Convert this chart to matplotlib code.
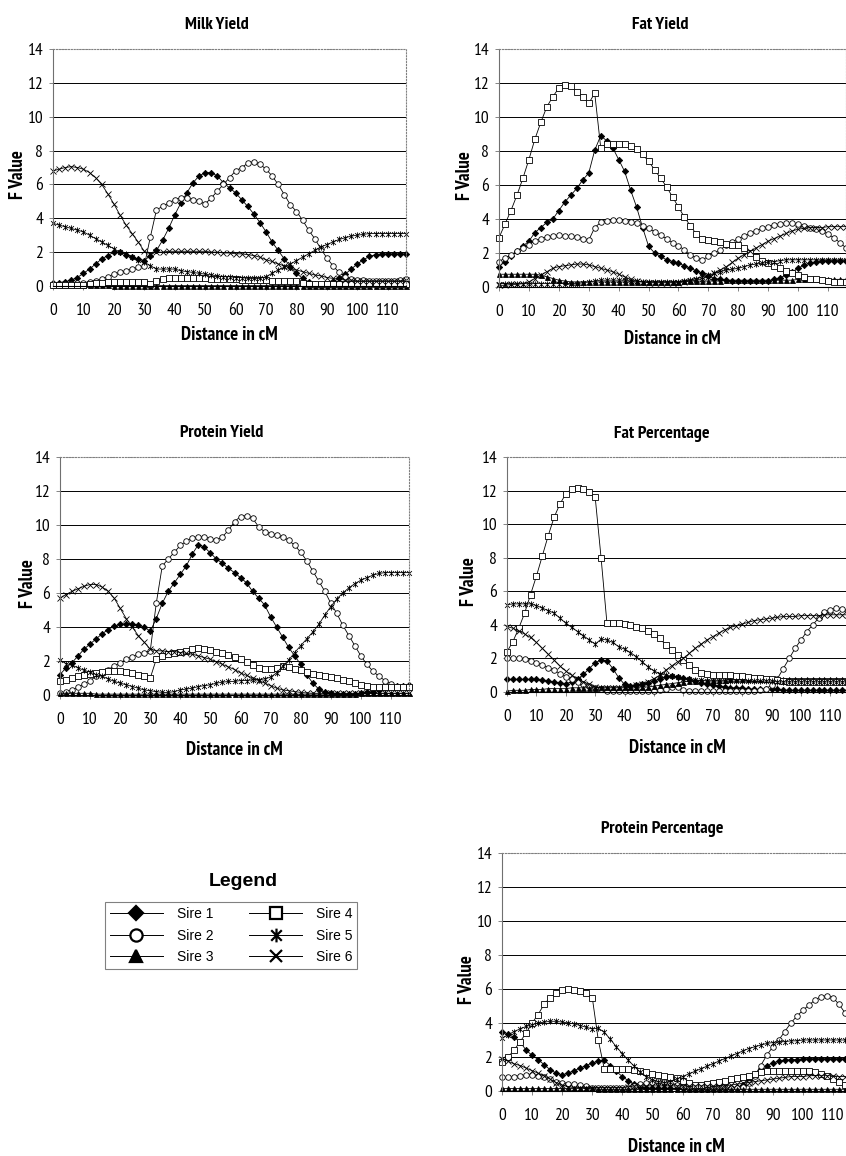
import matplotlib
matplotlib.use("Agg")
import matplotlib.pyplot as plt
from matplotlib import font_manager
from matplotlib.lines import Line2D
from matplotlib.path import Path


def pick(cands, bold=False):
    # first installed family (with a bold face if needed), DejaVu as fallback
    for name in cands:
        ws = [f.weight for f in font_manager.fontManager.ttflist if f.name == name]
        ws = [w if isinstance(w, int) else (700 if str(w) == 'bold' else 400) for w in ws]
        if ws and (not bold or max(ws) >= 600):
            return [name, 'DejaVu Sans']
    return ['DejaVu Sans']


narrow_cands = ['PT Sans Narrow', 'Archivo Narrow', 'Roboto Condensed', 'Liberation Sans Narrow']
narrow = pick(narrow_cands)
narrow_bold = pick(narrow_cands, bold=True)
arial = pick(['Liberation Sans', 'Arimo'])
plt.rcParams['font.family'] = narrow

# distance in cM (one point every 2 cM)
dist = list(range(0, 117, 2))
sires = ['Sire 1', 'Sire 2', 'Sire 3', 'Sire 4', 'Sire 5', 'Sire 6']

# ---- Milk Yield ----
milk_s1 = [0.2, 0.2, 0.25, 0.35, 0.5, 0.75, 1.0, 1.3, 1.6, 1.8,
           2.0, 2.0, 1.85, 1.7, 1.6, 1.5, 1.8, 2.1, 2.7, 3.4,
           4.2, 4.9, 5.5, 6.1, 6.5, 6.7, 6.7, 6.5, 6.1, 5.8,
           5.5, 5.1, 4.7, 4.25, 3.75, 3.2, 2.6, 2.1, 1.6, 1.15,
           0.75, 0.45, 0.25, 0.1, 0.05, 0.1, 0.25, 0.45, 0.7, 1.0,
           1.3, 1.55, 1.75, 1.85, 1.9, 1.9, 1.9, 1.9, 1.9]
milk_s2 = [0.05, 0.05, 0.1, 0.1, 0.15, 0.2, 0.25, 0.3, 0.4, 0.55,
           0.7, 0.8, 0.9, 1.0, 1.1, 1.2, 2.9, 4.5, 4.7, 4.9,
           5.1, 5.2, 5.2, 5.1, 5.0, 4.85, 5.2, 5.6, 6.0, 6.4,
           6.8, 7.0, 7.25, 7.35, 7.2, 6.9, 6.5, 6.0, 5.4, 4.8,
           4.4, 3.9, 3.3, 2.8, 2.2, 1.65, 1.2, 0.8, 0.55, 0.4,
           0.35, 0.35, 0.3, 0.3, 0.3, 0.3, 0.3, 0.35, 0.4]
milk_s3 = [0.05, 0.05, 0.05, 0.05, 0.05, 0.05, 0.05, 0.05, 0.05, 0.03,
           0.02, 0.02, 0.02, 0.02, 0.02, 0.02, 0.02, 0.02, 0.02, 0.02,
           0.02, 0.02, 0.02, 0.02, 0.02, 0.02, 0.02, 0.02, 0.02, 0.02,
           0.02, 0.02, 0.02, 0.02, 0.02, 0.02, 0.02, 0.02, 0.02, 0.02,
           0.02, 0.02, 0.02, 0.02, 0.02, 0.02, 0.02, 0.02, 0.02, 0.02,
           0.02, 0.02, 0.02, 0.02, 0.02, 0.02, 0.02, 0.02, 0.02]
milk_s4 = [0.05, 0.05, 0.05, 0.05, 0.05, 0.05, 0.1, 0.15, 0.2, 0.25,
           0.25, 0.25, 0.25, 0.25, 0.25, 0.25, 0.1, 0.3, 0.4, 0.45,
           0.45, 0.45, 0.45, 0.45, 0.45, 0.45, 0.4, 0.4, 0.4, 0.4,
           0.4, 0.35, 0.35, 0.35, 0.35, 0.35, 0.3, 0.3, 0.3, 0.3,
           0.3, 0.2, 0.1, 0.1, 0.1, 0.1, 0.1, 0.1, 0.1, 0.1,
           0.1, 0.1, 0.1, 0.1, 0.1, 0.1, 0.1, 0.1, 0.1]
milk_s5 = [3.7, 3.6, 3.5, 3.4, 3.3, 3.2, 3.0, 2.8, 2.6, 2.4,
           2.2, 2.0, 1.9, 1.7, 1.55, 1.4, 1.2, 1.0, 1.0, 1.0,
           1.0, 0.9, 0.85, 0.8, 0.75, 0.7, 0.65, 0.6, 0.55, 0.55,
           0.5, 0.5, 0.45, 0.45, 0.45, 0.55, 0.75, 0.95, 1.1, 1.3,
           1.5, 1.7, 1.9, 2.1, 2.3, 2.45, 2.6, 2.75, 2.85, 2.95,
           3.0, 3.05, 3.1, 3.1, 3.1, 3.1, 3.1, 3.1, 3.1]
milk_s6 = [6.8, 6.9, 7.0, 7.05, 7.0, 6.9, 6.7, 6.4, 6.0, 5.45,
           4.85, 4.2, 3.6, 3.1, 2.6, 2.05, 1.9, 2.0, 2.0, 2.05,
           2.05, 2.05, 2.05, 2.05, 2.05, 2.05, 2.0, 2.0, 1.95, 1.95,
           1.9, 1.9, 1.85, 1.8, 1.7, 1.55, 1.45, 1.3, 1.2, 1.05,
           0.95, 0.85, 0.75, 0.65, 0.6, 0.5, 0.45, 0.4, 0.35, 0.35,
           0.3, 0.3, 0.3, 0.3, 0.3, 0.3, 0.3, 0.3, 0.35]

# ---- Fat Yield ----
fat_s1 = [1.2, 1.5, 1.8, 2.1, 2.4, 2.7, 3.2, 3.5, 3.8, 4.0,
          4.5, 5.0, 5.4, 5.8, 6.3, 6.7, 8.05, 8.9, 8.6, 8.2,
          7.5, 6.8, 5.7, 4.7, 3.5, 2.4, 2.0, 1.8, 1.6, 1.5,
          1.4, 1.25, 1.1, 0.95, 0.8, 0.65, 0.5, 0.45, 0.4, 0.35,
          0.35, 0.35, 0.35, 0.35, 0.35, 0.35, 0.45, 0.55, 0.7, 0.9,
          1.1, 1.3, 1.4, 1.5, 1.55, 1.55, 1.55, 1.55, 1.55]
fat_s2 = [1.5, 1.7, 1.9, 2.1, 2.3, 2.5, 2.7, 2.85, 2.95, 3.0,
          3.05, 3.0, 3.0, 2.95, 2.85, 2.75, 3.5, 3.8, 3.9, 3.95,
          3.95, 3.9, 3.85, 3.75, 3.6, 3.45, 3.25, 3.05, 2.85, 2.6,
          2.4, 2.2, 1.9, 1.7, 1.6, 1.8, 2.0, 2.2, 2.45, 2.65,
          2.85, 3.0, 3.15, 3.3, 3.45, 3.55, 3.65, 3.7, 3.75, 3.75,
          3.7, 3.6, 3.5, 3.4, 3.3, 3.1, 2.9, 2.6, 2.3]
fat_s3 = [0.75, 0.75, 0.75, 0.75, 0.75, 0.75, 0.75, 0.7, 0.6, 0.5,
          0.4, 0.35, 0.3, 0.3, 0.3, 0.3, 0.3, 0.3, 0.3, 0.3,
          0.3, 0.3, 0.3, 0.3, 0.3, 0.3, 0.3, 0.3, 0.3, 0.3,
          0.3, 0.35, 0.35, 0.35, 0.35, 0.35, 0.35, 0.35, 0.4, 0.4,
          0.4, 0.4, 0.4, 0.4, 0.4, 0.4, 0.4, 0.4, 0.4, 0.4,
          0.45, 0.45, 0.45, 0.45, 0.45, 0.45, 0.45, 0.45, 0.45]
fat_s4 = [2.9, 3.7, 4.5, 5.4, 6.4, 7.5, 8.7, 9.7, 10.6, 11.2,
          11.7, 11.9, 11.8, 11.5, 11.2, 10.8, 11.4, 8.2, 8.4, 8.4,
          8.4, 8.4, 8.3, 8.1, 7.8, 7.4, 6.9, 6.4, 5.9, 5.3,
          4.7, 4.1, 3.6, 3.1, 2.8, 2.75, 2.7, 2.65, 2.55, 2.5,
          2.45, 2.3, 2.0, 1.75, 1.55, 1.4, 1.25, 1.1, 0.95, 0.8,
          0.7, 0.6, 0.5, 0.45, 0.4, 0.35, 0.3, 0.3, 0.3]
fat_s5 = [0.2, 0.2, 0.2, 0.2, 0.2, 0.2, 0.2, 0.2, 0.2, 0.2,
          0.2, 0.2, 0.2, 0.2, 0.25, 0.3, 0.35, 0.4, 0.4, 0.4,
          0.4, 0.4, 0.35, 0.35, 0.3, 0.3, 0.3, 0.3, 0.3, 0.3,
          0.3, 0.35, 0.4, 0.5, 0.6, 0.7, 0.8, 0.9, 1.0, 1.05,
          1.1, 1.2, 1.3, 1.35, 1.4, 1.45, 1.5, 1.55, 1.6, 1.6,
          1.6, 1.6, 1.6, 1.6, 1.6, 1.6, 1.6, 1.6, 1.6]
fat_s6 = [0.1, 0.1, 0.15, 0.15, 0.2, 0.3, 0.5, 0.7, 0.9, 1.1,
          1.2, 1.25, 1.3, 1.35, 1.35, 1.3, 1.2, 1.1, 1.0, 0.9,
          0.75, 0.6, 0.45, 0.35, 0.3, 0.25, 0.25, 0.25, 0.25, 0.25,
          0.25, 0.3, 0.35, 0.4, 0.5, 0.6, 0.8, 1.0, 1.2, 1.45,
          1.7, 1.9, 2.1, 2.3, 2.5, 2.7, 2.85, 3.0, 3.15, 3.3,
          3.4, 3.45, 3.5, 3.5, 3.5, 3.55, 3.55, 3.55, 3.55]

# ---- Protein Yield ----
prot_s1 = [1.2, 1.6, 1.9, 2.3, 2.7, 3.0, 3.3, 3.6, 3.85, 4.05,
           4.15, 4.2, 4.2, 4.1, 4.0, 3.75, 4.5, 5.4, 6.1, 6.6,
           7.1, 7.6, 8.3, 8.85, 8.7, 8.35, 8.0, 7.75, 7.45, 7.2,
           6.9, 6.6, 6.1, 5.7, 5.3, 4.6, 4.0, 3.4, 2.8, 2.3,
           1.8, 1.2, 0.7, 0.35, 0.15, 0.1, 0.05, 0.05, 0.05, 0.05,
           0.1, 0.15, 0.2, 0.3, 0.4, 0.5, 0.55, 0.55, 0.6]
prot_s2 = [0.1, 0.2, 0.3, 0.45, 0.65, 0.85, 1.1, 1.3, 1.5, 1.7,
           1.9, 2.1, 2.25, 2.4, 2.5, 2.6, 5.4, 7.6, 8.0, 8.4,
           8.8, 9.05, 9.25, 9.3, 9.3, 9.2, 9.1, 9.3, 9.7, 10.2,
           10.5, 10.55, 10.4, 9.9, 9.6, 9.5, 9.4, 9.3, 9.1, 8.8,
           8.4, 7.9, 7.3, 6.7, 6.1, 5.4, 4.8, 4.1, 3.5, 2.9,
           2.3, 1.8, 1.4, 1.1, 0.85, 0.65, 0.5, 0.45, 0.45]
prot_s3 = [0.1, 0.1, 0.1, 0.1, 0.1, 0.1, 0.05, 0.05, 0.05, 0.05,
           0.05, 0.05, 0.05, 0.05, 0.05, 0.05, 0.05, 0.05, 0.05, 0.05,
           0.05, 0.05, 0.05, 0.05, 0.05, 0.05, 0.05, 0.05, 0.05, 0.05,
           0.05, 0.05, 0.05, 0.05, 0.05, 0.05, 0.05, 0.05, 0.05, 0.05,
           0.05, 0.05, 0.05, 0.05, 0.05, 0.05, 0.05, 0.05, 0.05, 0.05,
           0.1, 0.1, 0.1, 0.1, 0.1, 0.1, 0.1, 0.1, 0.1]
prot_s4 = [0.8, 0.9, 1.0, 1.1, 1.2, 1.25, 1.3, 1.35, 1.4, 1.4,
           1.4, 1.35, 1.3, 1.2, 1.1, 1.0, 2.1, 2.3, 2.4, 2.5,
           2.55, 2.6, 2.7, 2.75, 2.7, 2.65, 2.55, 2.45, 2.35, 2.25,
           2.1, 1.95, 1.75, 1.6, 1.55, 1.55, 1.6, 1.7, 1.65, 1.55,
           1.45, 1.35, 1.25, 1.2, 1.1, 1.05, 1.0, 0.9, 0.8, 0.7,
           0.6, 0.55, 0.5, 0.45, 0.45, 0.45, 0.45, 0.45, 0.45]
prot_s5 = [2.05, 1.85, 1.75, 1.6, 1.45, 1.35, 1.2, 1.1, 0.95, 0.8,
           0.7, 0.6, 0.5, 0.4, 0.3, 0.25, 0.2, 0.15, 0.15, 0.2,
           0.3, 0.35, 0.4, 0.5, 0.55, 0.6, 0.7, 0.75, 0.8, 0.8,
           0.85, 0.85, 0.9, 0.9, 0.95, 1.05, 1.3, 1.7, 2.05, 2.5,
           2.9, 3.3, 3.7, 4.15, 4.7, 5.2, 5.65, 6.0, 6.3, 6.55,
           6.75, 6.9, 7.05, 7.15, 7.2, 7.2, 7.2, 7.2, 7.2]
prot_s6 = [5.7, 5.9, 6.1, 6.25, 6.4, 6.5, 6.5, 6.35, 6.1, 5.7,
           5.1, 4.5, 4.0, 3.5, 3.1, 2.7, 2.6, 2.6, 2.55, 2.55,
           2.5, 2.45, 2.4, 2.3, 2.2, 2.1, 1.95, 1.8, 1.65, 1.5,
           1.3, 1.15, 1.0, 0.85, 0.7, 0.55, 0.4, 0.3, 0.25, 0.2,
           0.15, 0.12, 0.1, 0.1, 0.1, 0.1, 0.1, 0.1, 0.1, 0.1,
           0.1, 0.1, 0.1, 0.1, 0.1, 0.1, 0.1, 0.1, 0.1]

# ---- Fat Percentage ----
fatp_s1 = [0.75, 0.75, 0.75, 0.75, 0.75, 0.75, 0.7, 0.65, 0.6, 0.55,
           0.5, 0.6, 0.75, 1.05, 1.4, 1.75, 1.9, 1.85, 1.4, 0.85,
           0.45, 0.35, 0.4, 0.45, 0.55, 0.65, 0.8, 0.9, 0.95, 0.9,
           0.85, 0.75, 0.65, 0.55, 0.45, 0.4, 0.35, 0.3, 0.25, 0.25,
           0.25, 0.2, 0.15, 0.15, 0.15, 0.15, 0.15, 0.1, 0.1, 0.1,
           0.1, 0.1, 0.1, 0.1, 0.1, 0.1, 0.1, 0.1, 0.1]
fatp_s2 = [2.0, 2.05, 2.0, 1.95, 1.85, 1.75, 1.6, 1.45, 1.3, 1.1,
           0.9, 0.75, 0.6, 0.45, 0.35, 0.25, 0.15, 0.05, 0.05, 0.05,
           0.05, 0.05, 0.05, 0.05, 0.05, 0.05, 0.1, 0.2, 0.3, 0.3,
           0.1, 0.05, 0.05, 0.05, 0.05, 0.05, 0.05, 0.05, 0.05, 0.05,
           0.05, 0.05, 0.05, 0.1, 0.2, 0.4, 0.8, 1.4, 2.0, 2.6,
           3.1, 3.6, 4.0, 4.4, 4.75, 4.9, 5.0, 4.95, 4.85]
fatp_s3 = [0.05, 0.1, 0.1, 0.1, 0.15, 0.15, 0.15, 0.2, 0.2, 0.2,
           0.2, 0.25, 0.25, 0.25, 0.25, 0.25, 0.3, 0.3, 0.3, 0.3,
           0.3, 0.3, 0.3, 0.3, 0.3, 0.35, 0.4, 0.45, 0.5, 0.55,
           0.6, 0.65, 0.65, 0.7, 0.7, 0.7, 0.7, 0.7, 0.75, 0.75,
           0.75, 0.75, 0.75, 0.75, 0.75, 0.75, 0.8, 0.8, 0.8, 0.8,
           0.8, 0.8, 0.8, 0.8, 0.8, 0.8, 0.8, 0.8, 0.8]
fatp_s4 = [2.4, 3.0, 3.8, 4.7, 5.8, 6.9, 8.1, 9.3, 10.4, 11.2,
           11.8, 12.1, 12.15, 12.1, 11.9, 11.6, 8.0, 4.1, 4.1, 4.1,
           4.05, 4.0, 3.9, 3.8, 3.65, 3.45, 3.2, 2.8, 2.5, 2.2,
           1.9, 1.6, 1.3, 1.15, 1.05, 1.0, 1.0, 1.0, 1.0, 0.95,
           0.95, 0.9, 0.85, 0.85, 0.8, 0.75, 0.7, 0.65, 0.6, 0.6,
           0.6, 0.6, 0.6, 0.6, 0.6, 0.6, 0.6, 0.6, 0.6]
fatp_s5 = [5.2, 5.25, 5.25, 5.25, 5.25, 5.15, 5.0, 4.85, 4.7, 4.4,
           4.1, 3.85, 3.6, 3.35, 3.1, 2.85, 3.15, 3.1, 2.95, 2.7,
           2.55, 2.35, 2.1, 1.8, 1.5, 1.25, 1.1, 1.0, 0.95, 0.9,
           0.8, 0.75, 0.7, 0.7, 0.65, 0.65, 0.65, 0.65, 0.65, 0.65,
           0.65, 0.65, 0.65, 0.65, 0.65, 0.65, 0.6, 0.6, 0.6, 0.6,
           0.6, 0.6, 0.6, 0.6, 0.6, 0.6, 0.6, 0.6, 0.6]
fatp_s6 = [3.9, 3.8, 3.65, 3.45, 3.25, 2.95, 2.6, 2.25, 1.9, 1.55,
           1.25, 1.0, 0.8, 0.6, 0.45, 0.3, 0.25, 0.25, 0.25, 0.25,
           0.25, 0.3, 0.4, 0.5, 0.6, 0.8, 1.0, 1.3, 1.55, 1.8,
           2.0, 2.3, 2.6, 2.85, 3.1, 3.3, 3.5, 3.7, 3.85, 3.95,
           4.05, 4.15, 4.25, 4.3, 4.35, 4.4, 4.45, 4.5, 4.5, 4.5,
           4.55, 4.55, 4.55, 4.55, 4.6, 4.6, 4.6, 4.6, 4.6]

# ---- Protein Percentage ----
protp_s1 = [3.5, 3.35, 3.15, 2.9, 2.4, 2.1, 1.85, 1.55, 1.25, 1.05,
            0.95, 1.05, 1.2, 1.35, 1.5, 1.65, 1.75, 1.8, 1.5, 1.15,
            0.85, 0.6, 0.4, 0.25, 0.2, 0.15, 0.15, 0.15, 0.15, 0.15,
            0.15, 0.1, 0.1, 0.1, 0.1, 0.1, 0.1, 0.1, 0.15, 0.2,
            0.35, 0.65, 1.0, 1.3, 1.5, 1.65, 1.75, 1.8, 1.85, 1.85,
            1.9, 1.9, 1.9, 1.9, 1.9, 1.9, 1.9, 1.9, 1.9]
protp_s2 = [0.8, 0.8, 0.85, 0.9, 0.95, 0.95, 0.9, 0.85, 0.7, 0.55,
            0.45, 0.4, 0.4, 0.35, 0.3, 0.2, 0.15, 0.15, 0.15, 0.15,
            0.15, 0.2, 0.3, 0.4, 0.5, 0.55, 0.6, 0.55, 0.45, 0.35,
            0.25, 0.2, 0.2, 0.2, 0.2, 0.2, 0.2, 0.2, 0.2, 0.2,
            0.25, 0.5, 0.9, 1.5, 2.1, 2.6, 3.0, 3.5, 4.0, 4.4,
            4.75, 5.05, 5.35, 5.55, 5.6, 5.5, 5.1, 4.6, 4.3]
protp_s3 = [0.15, 0.15, 0.15, 0.15, 0.15, 0.15, 0.15, 0.15, 0.15, 0.15,
            0.15, 0.15, 0.15, 0.15, 0.15, 0.15, 0.1, 0.1, 0.1, 0.1,
            0.1, 0.1, 0.1, 0.1, 0.1, 0.1, 0.1, 0.1, 0.1, 0.1,
            0.1, 0.1, 0.1, 0.1, 0.1, 0.1, 0.1, 0.1, 0.1, 0.1,
            0.1, 0.1, 0.1, 0.1, 0.1, 0.1, 0.1, 0.1, 0.1, 0.1,
            0.1, 0.1, 0.1, 0.1, 0.1, 0.1, 0.1, 0.1, 0.1]
protp_s4 = [1.7, 2.0, 2.4, 2.9, 3.4, 4.0, 4.5, 5.1, 5.5, 5.75,
            5.95, 6.0, 5.95, 5.9, 5.75, 5.5, 3.0, 1.3, 1.3, 1.3,
            1.3, 1.3, 1.25, 1.2, 1.1, 1.0, 0.95, 0.9, 0.8, 0.75,
            0.6, 0.45, 0.35, 0.35, 0.4, 0.5, 0.55, 0.6, 0.7, 0.75,
            0.85, 0.9, 1.0, 1.1, 1.15, 1.15, 1.15, 1.15, 1.15, 1.15,
            1.15, 1.15, 1.1, 1.0, 0.9, 0.7, 0.55, 0.35, 0.3]
protp_s5 = [3.1, 3.3, 3.5, 3.65, 3.8, 3.9, 4.0, 4.05, 4.1, 4.1,
            4.05, 4.0, 3.95, 3.85, 3.75, 3.65, 3.7, 3.45, 3.05, 2.6,
            2.2, 1.8, 1.45, 1.1, 0.85, 0.65, 0.55, 0.5, 0.55, 0.7,
            0.85, 1.0, 1.15, 1.3, 1.45, 1.6, 1.75, 1.9, 2.05, 2.2,
            2.35, 2.5, 2.6, 2.7, 2.8, 2.85, 2.9, 2.9, 2.95, 2.95,
            3.0, 3.0, 3.0, 3.0, 3.0, 3.0, 3.0, 3.0, 3.0]
protp_s6 = [1.9, 1.75, 1.6, 1.5, 1.35, 1.2, 1.05, 0.9, 0.7, 0.5,
            0.35, 0.25, 0.2, 0.2, 0.2, 0.2, 0.2, 0.2, 0.2, 0.2,
            0.2, 0.25, 0.3, 0.3, 0.3, 0.3, 0.3, 0.3, 0.3, 0.3,
            0.3, 0.3, 0.3, 0.3, 0.3, 0.3, 0.3, 0.3, 0.35, 0.4,
            0.45, 0.5, 0.55, 0.6, 0.65, 0.7, 0.75, 0.8, 0.85, 0.85,
            0.85, 0.9, 0.9, 0.9, 0.9, 0.9, 0.85, 0.85, 0.85]

W, H = 846, 1156
fig = plt.figure(figsize=(W / 100, H / 100), dpi=100)

# asterisk marker like the spreadsheet "star": an x with a vertical bar
star = Path([(-1, -1), (1, 1), (-1, 1), (1, -1), (0, -1.3), (0, 1.3)],
            [Path.MOVETO, Path.LINETO, Path.MOVETO, Path.LINETO, Path.MOVETO, Path.LINETO])

styles = [dict(marker='D', mfc='black', ms=3.2),
          dict(marker='o', mfc='white', ms=4),
          dict(marker='^', mfc='black', ms=3.6),
          dict(marker='s', mfc='white', ms=4),
          dict(marker=star, mfc='none', ms=4.5),
          dict(marker='x', mfc='none', ms=4)]

# (title, series, pixel box l,t,r,b, title x, ylabel x, xlabel y)
panels = [
    ('Milk Yield', [milk_s1, milk_s2, milk_s3, milk_s4, milk_s5, milk_s6],
     (53, 49, 406, 286), 0.465, -0.099, -0.207),
    ('Fat Yield', [fat_s1, fat_s2, fat_s3, fat_s4, fat_s5, fat_s6],
     (499, 49, 846, 287), 0.464, -0.098, -0.22),
    ('Protein Yield', [prot_s1, prot_s2, prot_s3, prot_s4, prot_s5, prot_s6],
     (60, 457, 409, 695), 0.464, -0.092, -0.23),
    ('Fat Percentage', [fatp_s1, fatp_s2, fatp_s3, fatp_s4, fatp_s5, fatp_s6],
     (507, 457, 848, 692), 0.455, -0.11, -0.24),
    ('Protein Percentage', [protp_s1, protp_s2, protp_s3, protp_s4, protp_s5, protp_s6],
     (502, 853, 851, 1091), 0.46, -0.10, -0.235),
]

for title, series, (l, t, r, b), tx, ylx, xly in panels:
    ax = fig.add_axes([l / W, 1 - b / H, (r - l) / W, (b - t) / H])
    for vals, st in zip(series, styles):
        if len(vals) != len(dist):
            raise ValueError(f'{title}: {len(vals)} values')
        ax.plot(dist, vals, color='black', lw=0.6, mec='black', mew=0.6,
                clip_on=False, **st)
    ax.set_xlim(0, 116)
    ax.set_ylim(0, 14)
    ax.set_yticks(range(0, 15, 2))
    ax.set_xticks(range(0, 111, 10))
    ax.yaxis.grid(True, color='black', lw=0.7)
    ax.get_ygridlines()[-1].set(color='gray', linestyle=':')
    ax.set_axisbelow(True)
    for side in ['top', 'right']:
        ax.spines[side].set(color='gray', linestyle=':', lw=0.8)
    ax.spines['left'].set(color='#707070', lw=0.8)
    ax.spines['bottom'].set(color='black', lw=0.8)
    ax.tick_params(axis='y', length=3, width=0.6, color='#707070', pad=4, labelsize=12.5)
    ax.tick_params(axis='x', length=3, width=0.6, color='#707070', pad=9, labelsize=12.5)
    ax.text(tx, 1.10, title, transform=ax.transAxes, ha='center', va='center',
            fontsize=13, fontweight='bold', family=narrow_bold)
    ax.text(ylx, 0.47, 'F Value', transform=ax.transAxes, rotation=90,
            ha='center', va='center', fontsize=13.5, fontweight='bold', family=narrow_bold)
    ax.text(0.5, xly, 'Distance in cM', transform=ax.transAxes, ha='center',
            va='center', fontsize=13.5, fontweight='bold', family=narrow_bold)

# legend block
fig.text(243 / W, 1 - 882 / H, 'Legend', ha='center', va='center', fontsize=14,
         fontweight='bold', family=arial)
handles = [Line2D([], [], color='black', lw=0.7, mec='black', mew=1.6,
                  marker=st['marker'], mfc=st['mfc'], ms=st['ms'] * 2.2)
           for st in styles]
leg = fig.legend(handles, sires, ncol=2, loc='upper left',
                 bbox_to_anchor=(105 / W, 1 - 902 / H), borderaxespad=0,
                 frameon=True, fancybox=False, edgecolor='#606060',
                 prop={'family': arial, 'size': 10},
                 handlelength=3.8, handletextpad=1.0, columnspacing=2.6,
                 labelspacing=0.55, borderpad=0.35)
leg.get_frame().set_linewidth(0.8)

fig.savefig('out.png', dpi=100)
